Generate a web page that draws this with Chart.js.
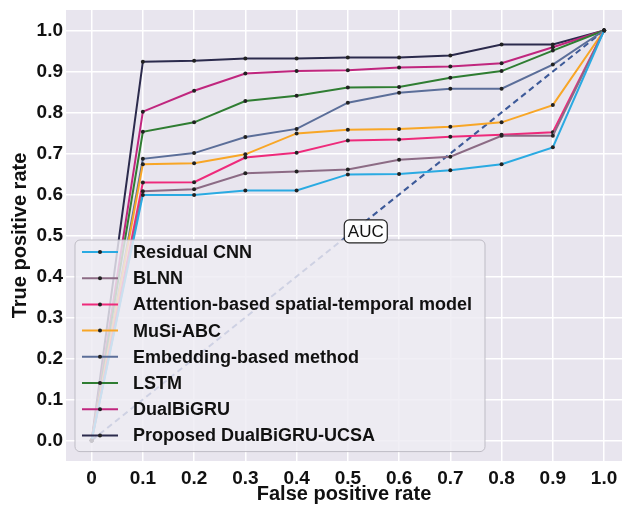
<!DOCTYPE html>
<html>
<head>
<meta charset="utf-8">
<script src="https://cdn.jsdelivr.net/npm/chart.js@4.4.1/dist/chart.umd.min.js"></script>
<style>
  html, body { margin: 0; padding: 0; background: #fff; }
</style>
</head>
<body>
<canvas id="roc" width="626" height="508"></canvas>
<script>
// false positive rate steps
const fpr = [0, 0.1, 0.2, 0.3, 0.4, 0.5, 0.6, 0.7, 0.8, 0.9, 1.0];

// true positive rate per model
const residualCnn = [0, 0.599, 0.599, 0.610, 0.610, 0.649, 0.650, 0.659, 0.674, 0.715, 1.0];
const blnn = [0, 0.608, 0.613, 0.652, 0.656, 0.661, 0.685, 0.692, 0.743, 0.743, 1.0];
const attention = [0, 0.629, 0.630, 0.690, 0.702, 0.732, 0.734, 0.741, 0.746, 0.752, 1.0];
const musiAbc = [0, 0.674, 0.676, 0.698, 0.749, 0.758, 0.760, 0.765, 0.776, 0.818, 1.0];
const embedding = [0, 0.687, 0.701, 0.740, 0.760, 0.824, 0.848, 0.858, 0.858, 0.917, 1.0];
const lstm = [0, 0.753, 0.776, 0.828, 0.841, 0.861, 0.862, 0.885, 0.901, 0.951, 1.0];
const dualBiGru = [0, 0.802, 0.853, 0.895, 0.901, 0.903, 0.910, 0.912, 0.920, 0.959, 1.0];
const proposed = [0, 0.924, 0.926, 0.932, 0.932, 0.934, 0.934, 0.939, 0.966, 0.966, 1.0];

const seriesNames = [
  "Residual CNN",
  "BLNN",
  "Attention-based spatial-temporal model",
  "MuSi-ABC",
  "Embedding-based method",
  "LSTM",
  "DualBiGRU",
  "Proposed DualBiGRU-UCSA",
];
const seriesValues = [residualCnn, blnn, attention, musiAbc, embedding, lstm, dualBiGru, proposed];
const seriesColors = ["#2aaae2", "#8c6b85", "#ee2a7b", "#f8a626", "#5b6e99", "#2f7d32", "#c0267e", "#2b2a4c"];

// chance line
const chanceX = [0, 1];
const chanceY = [0, 1];

// axis ticks
const xTickValues = [0, 0.1, 0.2, 0.3, 0.4, 0.5, 0.6, 0.7, 0.8, 0.9, 1.0];
const xTickLabels = ["0", "0.1", "0.2", "0.3", "0.4", "0.5", "0.6", "0.7", "0.8", "0.9", "1.0"];
const yTickValues = [0, 0.1, 0.2, 0.3, 0.4, 0.5, 0.6, 0.7, 0.8, 0.9, 1.0];
const yTickLabels = ["0.0", "0.1", "0.2", "0.3", "0.4", "0.5", "0.6", "0.7", "0.8", "0.9", "1.0"];

const aucLabel = "AUC";
const aucPos = { x: 0.535, y: 0.51 };

const FONT = "'Liberation Sans', Arial, sans-serif";

const datasets = seriesNames.map((name, i) => ({
  label: name,
  data: fpr.map((x, j) => ({ x, y: seriesValues[i][j] })),
  borderColor: seriesColors[i],
  backgroundColor: seriesColors[i],
  borderWidth: 2,
  pointRadius: 2,
  pointBackgroundColor: "#222",
  pointBorderWidth: 0,
  tension: 0,
}));

datasets.push({
  label: "chance",
  data: chanceX.map((x, j) => ({ x, y: chanceY[j] })),
  borderColor: "#3d5a99",
  borderWidth: 2,
  borderDash: [6, 4],
  pointRadius: 0,
  hideInLegend: true,
});

const plotBackground = {
  id: "plotBackground",
  beforeDraw(chart) {
    const { ctx, chartArea } = chart;
    ctx.save();
    ctx.fillStyle = "#e8e5ee";
    ctx.fillRect(chartArea.left, chartArea.top, chartArea.width, chartArea.height);
    ctx.restore();
  },
};

// legend sits inside the plot, over the lines, like matplotlib's
const insideLegend = {
  id: "insideLegend",
  afterDatasetsDraw(chart) {
    const { ctx, chartArea } = chart;
    const left = chartArea.left + 9;
    const top = chartArea.top + 230;
    const width = 410;
    const rowH = 26.2;
    const items = chart.data.datasets.filter((d) => !d.hideInLegend);
    const height = rowH * items.length + 2;

    ctx.save();
    ctx.beginPath();
    ctx.roundRect(left, top, width, height, 5);
    ctx.fillStyle = "rgba(238,236,243,0.82)";
    ctx.fill();
    ctx.strokeStyle = "rgba(185,183,192,0.9)";
    ctx.lineWidth = 1;
    ctx.stroke();

    ctx.font = "bold 18px " + FONT;
    ctx.textBaseline = "middle";
    items.forEach((d, i) => {
      const cy = top + 12 + i * rowH;
      ctx.strokeStyle = d.borderColor;
      ctx.lineWidth = 2;
      ctx.beginPath();
      ctx.moveTo(left + 7, cy);
      ctx.lineTo(left + 43, cy);
      ctx.stroke();
      ctx.fillStyle = "#222";
      ctx.beginPath();
      ctx.arc(left + 25, cy, 2, 0, Math.PI * 2);
      ctx.fill();
      ctx.fillStyle = "#111";
      ctx.fillText(d.label, left + 58, cy + 1);
    });
    ctx.restore();
  },
};

const aucBox = {
  id: "aucBox",
  afterDraw(chart) {
    const { ctx, scales } = chart;
    const cx = scales.x.getPixelForValue(aucPos.x);
    const cy = scales.y.getPixelForValue(aucPos.y);
    const w = 43, h = 23;
    ctx.save();
    ctx.beginPath();
    ctx.roundRect(cx - w / 2, cy - h / 2, w, h, 5);
    ctx.fillStyle = "rgba(255,255,255,0.9)";
    ctx.fill();
    ctx.strokeStyle = "#222";
    ctx.lineWidth = 1.2;
    ctx.stroke();
    ctx.fillStyle = "#111";
    ctx.font = "17px " + FONT;
    ctx.textAlign = "center";
    ctx.textBaseline = "middle";
    ctx.fillText(aucLabel, cx, cy + 1);
    ctx.restore();
  },
};

new Chart(document.getElementById("roc"), {
  type: "line",
  data: { datasets },
  options: {
    responsive: false,
    animation: false,
    layout: { padding: { top: 10, right: 0, bottom: 0, left: 0 } },
    plugins: {
      legend: { display: false },
      tooltip: { enabled: false },
    },
    scales: {
      x: {
        type: "linear",
        min: -0.05,
        max: 1.035,
        afterBuildTicks: (scale) => {
          scale.ticks = xTickValues.map((v) => ({ value: v }));
        },
        afterFit: (scale) => {
          scale.height = 47;
          scale.paddingLeft = 0;
          scale.paddingRight = 0;
        },
        ticks: {
          padding: 6,
          color: "#111",
          font: { family: FONT, size: 19, weight: "bold" },
          maxRotation: 0,
          autoSkip: false,
          callback: (v, i) => xTickLabels[i],
        },
        grid: { color: "#ffffff", lineWidth: 1.5, drawTicks: false },
        border: { display: false },
        title: {
          display: true,
          text: "False positive rate",
          color: "#111",
          font: { family: FONT, size: 20, weight: "bold" },
          padding: { top: 0, bottom: 2 },
        },
      },
      y: {
        type: "linear",
        min: -0.05,
        max: 1.05,
        afterBuildTicks: (scale) => {
          scale.ticks = yTickValues.map((v) => ({ value: v }));
        },
        afterFit: (scale) => {
          scale.width = 66;
          scale.paddingTop = 0;
          scale.paddingBottom = 0;
        },
        ticks: {
          padding: 3,
          color: "#111",
          font: { family: FONT, size: 19, weight: "bold" },
          autoSkip: false,
          callback: (v, i) => yTickLabels[i],
        },
        grid: { color: "#ffffff", lineWidth: 1.5, drawTicks: false },
        border: { display: false },
        title: {
          display: true,
          text: "True positive rate",
          color: "#111",
          font: { family: FONT, size: 20, weight: "bold" },
          padding: { top: 8, bottom: 0 },
        },
      },
    },
  },
  plugins: [plotBackground, insideLegend, aucBox],
});
</script>
</body>
</html>
